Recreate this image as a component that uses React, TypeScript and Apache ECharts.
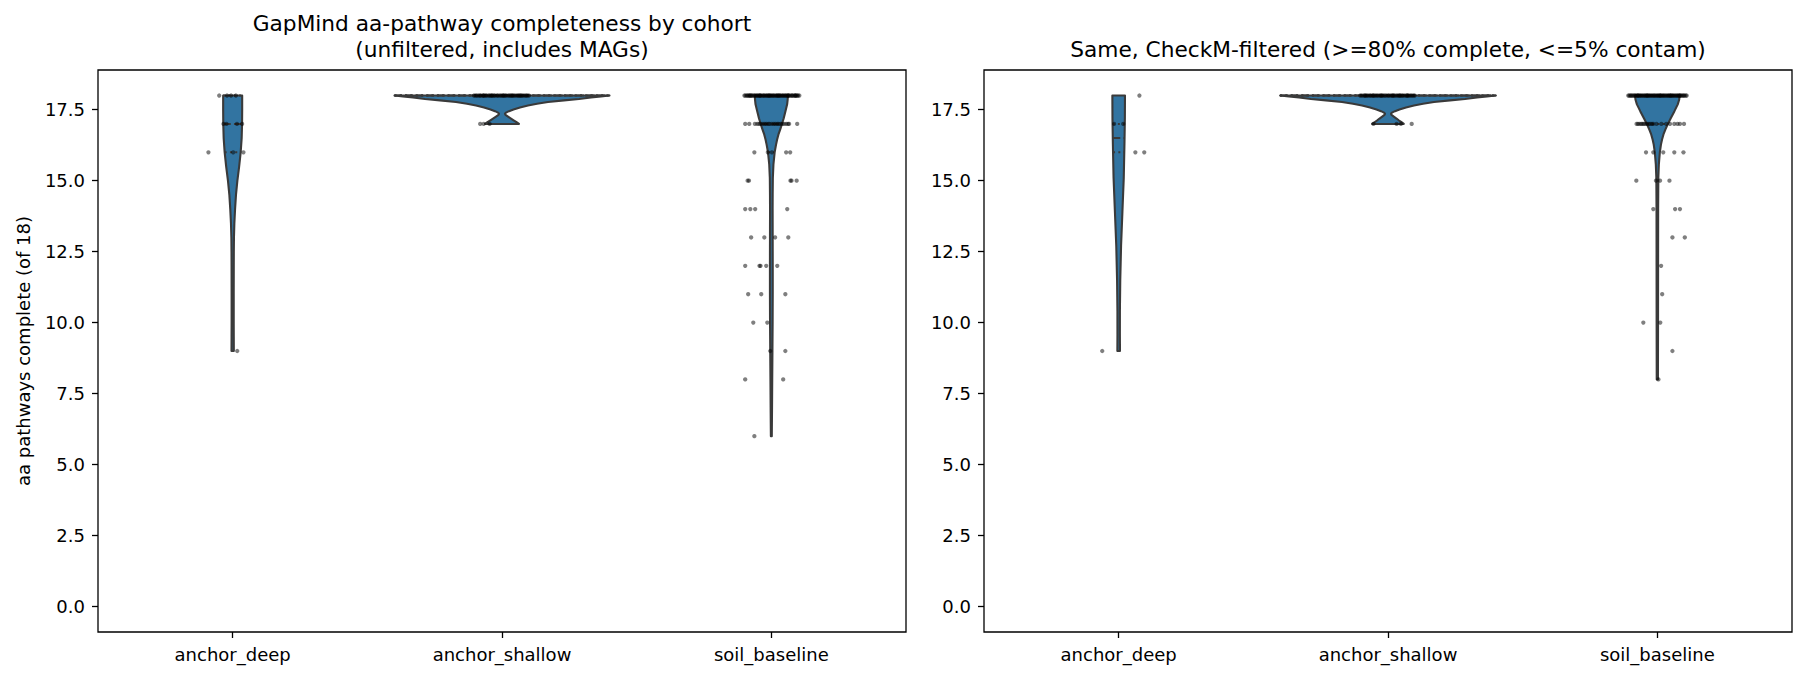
import React, { useEffect, useRef } from "react";
import * as echarts from "echarts";

const cohorts = ["anchor_deep", "anchor_shallow", "soil_baseline"];
const yTickValues = [0, 2.5, 5, 7.5, 10, 12.5, 15, 17.5];
const yMin = -0.9;
const yMax = 18.9;

const leftTitle = ["GapMind aa-pathway completeness by cohort", "(unfiltered, includes MAGs)"];
const rightTitle = "Same, CheckM-filtered (>=80% complete, <=5% contam)";
const yName = "aa pathways complete (of 18)";

// violin outlines: [value, half-width as a fraction of category spacing]
const unfDeepShape: [number, number][] = [
  [18, 0.0353], [17.5, 0.0353], [17, 0.0349], [16.5, 0.0334], [16, 0.0297], [15.5, 0.0241],
  [15, 0.0175], [14.5, 0.0123], [14, 0.0089], [13.5, 0.0063], [13, 0.0048], [12.5, 0.0043],
  [12, 0.0041], [11, 0.0039], [10, 0.0039], [9.5, 0.0041], [9, 0.0043],
];
const unfShallowShape: [number, number][] = [
  [18, 0.3992], [17.97, 0.3676], [17.93, 0.3305], [17.88, 0.2859], [17.83, 0.2302], [17.77, 0.1708],
  [17.71, 0.13], [17.65, 0.0965], [17.58, 0.0668], [17.51, 0.0427], [17.45, 0.026], [17.4, 0.0149],
  [17.36, 0.0111], [17.32, 0.013], [17.26, 0.0223], [17.19, 0.0334], [17.12, 0.0446], [17.06, 0.0538],
  [17, 0.0631],
];
const unfSoilShape: [number, number][] = [
  [18, 0.0616], [17.85, 0.0605], [17.69, 0.0587], [17.45, 0.0524], [17.2, 0.046], [16.97, 0.0386],
  [16.8, 0.0327], [16.63, 0.0264], [16.45, 0.0215], [16.27, 0.0175], [16, 0.0123], [15.57, 0.0078],
  [15.1, 0.0056], [14.5, 0.005], [14, 0.0048], [13, 0.005], [12, 0.0052], [11, 0.0052], [10, 0.0048],
  [9, 0.0041], [8, 0.0033], [7, 0.0026], [6, 0.0017],
];
const filDeepShape: [number, number][] = [
  [18, 0.0234], [17.2, 0.023], [16.3, 0.0215], [15.1, 0.0189], [13.9, 0.0139], [12.7, 0.0089],
  [11.5, 0.0059], [10.4, 0.0046], [9.6, 0.0045], [9, 0.0048],
];
const filShallowShape: [number, number][] = [
  [18, 0.4006], [17.97, 0.3676], [17.93, 0.3305], [17.88, 0.2859], [17.83, 0.2302], [17.77, 0.1708],
  [17.71, 0.13], [17.65, 0.0965], [17.58, 0.0668], [17.51, 0.0427], [17.45, 0.026], [17.4, 0.0149],
  [17.36, 0.0111], [17.32, 0.013], [17.26, 0.0215], [17.19, 0.0315], [17.12, 0.041], [17.06, 0.05],
  [17, 0.0587],
];
const filSoilShape: [number, number][] = [
  [18, 0.0828], [17.85, 0.081], [17.69, 0.0758], [17.45, 0.0635], [17.2, 0.0498], [16.97, 0.0375],
  [16.8, 0.0297], [16.63, 0.0227], [16.45, 0.0175], [16.27, 0.0134], [16, 0.0093], [15.57, 0.0056],
  [15.1, 0.0037], [14, 0.003], [12, 0.0028], [10, 0.0026], [8, 0.0022],
];

// inner quartile lines (Q1, median, Q3)
const unfQuartiles = [[16, 17, 18], [18, 18, 18], [16, 17, 18]];
const filQuartiles = [[16, 16.5, 17], [18, 18, 18], [17, 18, 18]];

// strip points: [value, jitter offsets (fraction of category spacing)]
const unfDeepPoints: [number, number[]][] = [
  [18, [-0.05, -0.021, -0.006, 0.012]],
  [17, [-0.034, -0.023, 0.016, 0.035]],
  [16, [-0.09, 0.002, 0.04]],
  [9, [0.017]],
];
const unfShallowPoints: [number, number[]][] = [
  [18, [-0.104, -0.098, -0.093, -0.087, -0.082, -0.078, -0.071, -0.066, -0.061, -0.057, -0.05, -0.046,
    -0.041, -0.035, -0.03, -0.026, -0.019, -0.015, -0.009, -0.004, 0.001, 0.007, 0.012, 0.016, 0.023,
    0.028, 0.032, 0.039, 0.043, 0.048, 0.054, 0.059, 0.063, 0.07, 0.074, 0.079, 0.085, 0.09, 0.094,
    0.1, -0.069, -0.038, 0.005, 0.036, 0.067]],
  [17, [-0.081, -0.068, -0.046]],
];
const unfSoilPoints: [number, number[]][] = [
  [18, [-0.1, -0.096, -0.091, -0.088, -0.084, -0.081, -0.076, -0.073, -0.07, -0.065, -0.062, -0.058,
    -0.054, -0.051, -0.047, -0.042, -0.04, -0.036, -0.031, -0.028, -0.025, -0.02, -0.017, -0.013, -0.01,
    -0.005, -0.002, 0.002, 0.006, 0.009, 0.013, 0.018, 0.02, 0.024, 0.029, 0.032, 0.035, 0.04, 0.043,
    0.047, 0.051, 0.054, 0.058, 0.063, 0.065, 0.069, 0.074, 0.077, 0.08, 0.085, 0.088, 0.092, 0.096,
    0.099, 0.104, -0.079, -0.044, -0.008, 0.026, 0.061, 0.09]],
  [17, [-0.097, -0.082, -0.061, -0.052, -0.045, -0.039, -0.031, -0.024, -0.018, -0.011, -0.006, 0.002,
    0.009, 0.015, 0.022, 0.027, 0.034, 0.04, 0.047, 0.055, 0.062, 0.066, 0.096]],
  [16, [-0.063, -0.013, 0.002, 0.055, 0.07]],
  [15, [-0.088, -0.083, 0.071, 0.075, 0.094]],
  [14, [-0.097, -0.078, -0.06, 0.059]],
  [13, [-0.075, -0.026, 0.014, 0.063]],
  [12, [-0.097, -0.044, -0.04, -0.019, 0.022]],
  [11, [-0.086, -0.0375, 0.052]],
  [10, [-0.067, -0.015]],
  [9, [-0.004, 0.052]],
  [8, [-0.097, 0.044]],
  [6, [-0.063]],
];
const filDeepPoints: [number, number[]][] = [
  [18, [0.077]],
  [17, [-0.017, 0.017]],
  [16, [0.062, 0.095]],
  [9, [-0.061]],
];
const filShallowPoints: [number, number[]][] = [
  [18, [-0.103, -0.097, -0.09, -0.086, -0.079, -0.074, -0.068, -0.064, -0.058, -0.052, -0.047, -0.042,
    -0.037, -0.031, -0.027, -0.021, -0.016, -0.011, -0.006, 0.0, 0.004, 0.01, 0.015, 0.021, 0.025,
    0.031, 0.036, 0.041, 0.047, 0.052, 0.056, 0.062, 0.068, 0.073, 0.077, 0.083, 0.088, 0.094, 0.099,
    -0.083, -0.055, -0.024, 0.018, 0.044, 0.071]],
  [17, [-0.054, 0.032, 0.048, 0.088]],
];
const filSoilPoints: [number, number[]][] = [
  [18, [-0.108, -0.104, -0.1, -0.097, -0.093, -0.089, -0.085, -0.082, -0.078, -0.074, -0.07, -0.066,
    -0.063, -0.059, -0.055, -0.051, -0.047, -0.044, -0.04, -0.036, -0.032, -0.029, -0.025, -0.021,
    -0.017, -0.013, -0.01, -0.006, -0.002, 0.002, 0.005, 0.009, 0.013, 0.017, 0.021, 0.024, 0.028,
    0.032, 0.036, 0.04, 0.043, 0.047, 0.051, 0.055, 0.058, 0.062, 0.066, 0.07, 0.074, 0.077, 0.081,
    0.085, 0.089, 0.093, 0.097, 0.1, 0.105, 0.109, -0.072, -0.038, 0.011, 0.049, 0.083]],
  [17, [-0.077, -0.072, -0.066, -0.06, -0.055, -0.05, -0.044, -0.038, -0.032, -0.026, -0.02, -0.015,
    -0.003, 0.015, 0.033, 0.047, 0.063, 0.075, 0.084, 0.099]],
  [16, [-0.042, -0.015, 0.022, 0.063, 0.097]],
  [15, [-0.078, -0.005, 0.01, 0.045]],
  [14, [-0.015, 0.066, 0.084]],
  [13, [0.056, 0.102]],
  [12, [0.014]],
  [11, [0.018]],
  [10, [-0.052, 0.011]],
  [9, [0.056]],
  [8, [0.004]],
];

const unfShapes = [unfDeepShape, unfShallowShape, unfSoilShape];
const filShapes = [filDeepShape, filShallowShape, filSoilShape];
const unfPoints = [unfDeepPoints, unfShallowPoints, unfSoilPoints];
const filPoints = [filDeepPoints, filShallowPoints, filSoilPoints];

const FONT = "DejaVu Sans";
const VIOLIN_FILL = "#3274a1";
const EDGE = "#3a3a3a";

function hwAt(shape: [number, number][], v: number): number {
  for (let i = 0; i < shape.length - 1; i++) {
    const [v0, h0] = shape[i];
    const [v1, h1] = shape[i + 1];
    if (v <= v0 && v >= v1) {
      const t = v0 === v1 ? 0 : (v0 - v) / (v0 - v1);
      return h0 + (h1 - h0) * t;
    }
  }
  return 0;
}

function violinSeries(idx: number, shapes: [number, number][][], quartiles: number[][]) {
  return {
    type: "custom",
    xAxisIndex: idx,
    yAxisIndex: idx,
    silent: true,
    z: 2,
    clip: false,
    data: cohorts.map((_, i) => [i, 18]),
    encode: { x: 0, y: 1 },
    renderItem: (params: any, api: any) => {
      const ci = api.value(0);
      const shape = shapes[ci];
      const band = api.size([1, 0])[0];
      const cx = api.coord([ci, 0])[0];
      const yOf = (v: number) => api.coord([ci, v])[1];
      const right = shape.map(([v, h]) => [cx + h * band, yOf(v)]);
      const left = shape.slice().reverse().map(([v, h]) => [cx - h * band, yOf(v)]);
      const children: any[] = [
        {
          type: "polygon",
          shape: { points: right.concat(left) },
          style: { fill: VIOLIN_FILL, stroke: EDGE, lineWidth: 2.1, lineJoin: "round" },
        },
      ];
      quartiles[ci].forEach((q, k) => {
        const h = hwAt(shape, q) * band;
        const y = yOf(q);
        children.push({
          type: "line",
          shape: { x1: cx - h, y1: y, x2: cx + h, y2: y },
          style: { stroke: EDGE, lineWidth: 2, lineDash: k === 1 ? [7.5, 3.2] : [2, 3.3] },
        });
      });
      return { type: "group", children };
    },
  };
}

function pointSeries(idx: number, pts: [number, number[]][][]) {
  const data: number[][] = [];
  pts.forEach((rows, ci) => {
    rows.forEach(([v, offs]) => offs.forEach((o) => data.push([ci, v, o])));
  });
  return {
    type: "custom",
    xAxisIndex: idx,
    yAxisIndex: idx,
    silent: true,
    z: 3,
    clip: false,
    data,
    encode: { x: 0, y: 1 },
    renderItem: (params: any, api: any) => {
      const ci = api.value(0);
      const v = api.value(1);
      const o = api.value(2);
      const band = api.size([1, 0])[0];
      const p = api.coord([ci, v]);
      return {
        type: "circle",
        shape: { cx: p[0] + o * band, cy: p[1], r: 2.15 },
        style: { fill: "rgba(0,0,0,0.5)" },
      };
    },
  };
}

function xAxisCfg(idx: number) {
  return {
    gridIndex: idx,
    type: "category",
    data: cohorts,
    boundaryGap: true,
    axisLine: { show: false, onZero: false },
    axisTick: { show: true, alignWithLabel: true, length: 6, lineStyle: { color: "#000", width: 1.3 } },
    axisLabel: { margin: 13, fontSize: 18, fontFamily: FONT, color: "#000" },
    splitLine: { show: false },
  };
}

function yAxisCfg(idx: number) {
  return {
    gridIndex: idx,
    type: "value",
    min: yMin,
    max: yMax,
    axisLine: { show: false, onZero: false },
    axisTick: {
      show: true,
      length: 6,
      customValues: yTickValues,
      lineStyle: { color: "#000", width: 1.3 },
    },
    axisLabel: {
      customValues: yTickValues,
      formatter: (v: number) => v.toFixed(1),
      margin: 13,
      fontSize: 18,
      fontFamily: FONT,
      color: "#000",
    },
    splitLine: { show: false },
  };
}

export default function App() {
  const ref = useRef<HTMLDivElement>(null);
  useEffect(() => {
    document.body.style.margin = "0";
    if (!ref.current) return;
    const chart = echarts.init(ref.current, undefined, { renderer: "svg" });
    const gridBase = {
      top: 70,
      width: 808,
      height: 562,
      show: true,
      borderColor: "#000",
      borderWidth: 1.3,
      backgroundColor: "transparent",
      containLabel: false,
      outerBoundsMode: "none",
    };
    chart.setOption({
      animation: false,
      backgroundColor: "#fff",
      grid: [
        { ...gridBase, left: 98 },
        { ...gridBase, left: 984 },
      ],
      xAxis: [xAxisCfg(0), xAxisCfg(1)],
      yAxis: [yAxisCfg(0), yAxisCfg(1)],
      series: [
        violinSeries(0, unfShapes, unfQuartiles),
        pointSeries(0, unfPoints),
        violinSeries(1, filShapes, filQuartiles),
        pointSeries(1, filPoints),
      ],
      graphic: [
        {
          type: "text",
          x: 502,
          y: 23,
          style: { text: leftTitle[0], fontSize: 21.7, fontFamily: FONT, fill: "#000", align: "center", verticalAlign: "middle" },
        },
        {
          type: "text",
          x: 502,
          y: 49.5,
          style: { text: leftTitle[1], fontSize: 21.7, fontFamily: FONT, fill: "#000", align: "center", verticalAlign: "middle" },
        },
        {
          type: "text",
          x: 1388,
          y: 49.5,
          style: { text: rightTitle, fontSize: 21.7, fontFamily: FONT, fill: "#000", align: "center", verticalAlign: "middle" },
        },
        {
          type: "text",
          x: 23,
          y: 351,
          rotation: Math.PI / 2,
          style: { text: yName, fontSize: 18, fontFamily: FONT, fill: "#000", align: "center", verticalAlign: "middle" },
        },
      ],
    });
    return () => chart.dispose();
  }, []);
  return <div ref={ref} style={{ width: 1805, height: 682 }} />;
}
